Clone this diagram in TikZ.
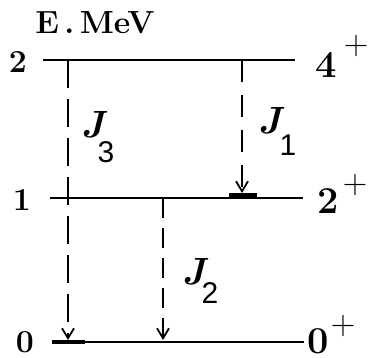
\documentclass[tikz,border=0pt]{standalone}
\usepackage{fontspec}
\newfontfamily\subfont{Liberation Sans}
\usetikzlibrary{arrows.meta, positioning}

\begin{document}
\begin{tikzpicture}[
    x=0.5pt, y=-0.5pt,
    level/.style={line width=1pt},
    ground/.style={line width=1.4pt},
    bar/.style={fill=black},
    trans/.style={line width=0.75pt, -{Straight Barb[length=5pt, width=6pt, line width=0.9pt]}},
    elabel/.style={font=\fontsize{16}{16}\selectfont\bfseries, inner sep=0pt},
    spin/.style={font=\fontsize{19}{19}\selectfont\bfseries, inner sep=0pt},
    parity/.style={font=\fontsize{17}{17}\selectfont, inner sep=0pt},
    jname/.style={font=\fontsize{19}{19}\selectfont\bfseries\itshape, inner sep=0pt},
    jsub/.style={font=\fontsize{15}{15}\selectfont\subfont, inner sep=0pt},
]
\useasboundingbox (0,0) rectangle (370,358);

% axis title
\node[font=\fontsize{16}{16}\selectfont\bfseries, inner sep=0pt] (axis) at (95,23) {E\,.\,MeV};

% levels
\coordinate (l2w) at (43,60);
\coordinate (l2e) at (295,60);
\coordinate (l1w) at (50,198);
\coordinate (l1e) at (303,198);
\coordinate (l0w) at (52,342);
\coordinate (l0e) at (304,342);
\draw[level] (l2w) -- (l2e);
\draw[level] (l1w) -- (l1e);
\draw[ground] (l0w) -- (l0e);
\fill[bar] (229,193) rectangle (257,199);
\fill[bar] (52,339.5) rectangle (85,344);

% energies
\node[elabel] (e2) at (18,62) {2};
\node[elabel] (e1) at (22,200) {1};
\node[elabel] (e0) at (25,342) {0};

% spins
\node[spin] (s4) at (326,65) {4};
\node[parity] (p4) at (356,46) {+};
\node[spin] (s2) at (328,201) {2};
\node[parity] (p2) at (355,185) {+};
\node[spin] (s0) at (318,341) {0};
\node[parity] (p0) at (343,326) {+};

% transitions
\coordinate (t3) at (68,60);
\coordinate (b3) at (68,340);
\coordinate (t1) at (242,60);
\coordinate (b1) at (242,193);
\coordinate (t2) at (163,198);
\coordinate (b2) at (163,340);
\draw[trans, dash pattern=on 14pt off 5.5pt] (t3) -- (b3);
\draw[trans, dash pattern=on 11pt off 6.5pt] (t1) -- (b1);
\draw[trans, dash pattern=on 10pt off 5pt] (t2) -- (b2);

% gamma labels
\node[jname] (j3) at (93,125) {J};
\node[jsub] (j3s) at (106,152) {3};
\node[jname] (j1) at (270,121) {J};
\node[jsub] (j1s) at (288,145) {1};
\node[jname] (j2) at (194,272) {J};
\node[jsub] (j2s) at (210,293) {2};
\end{tikzpicture}
\end{document}
